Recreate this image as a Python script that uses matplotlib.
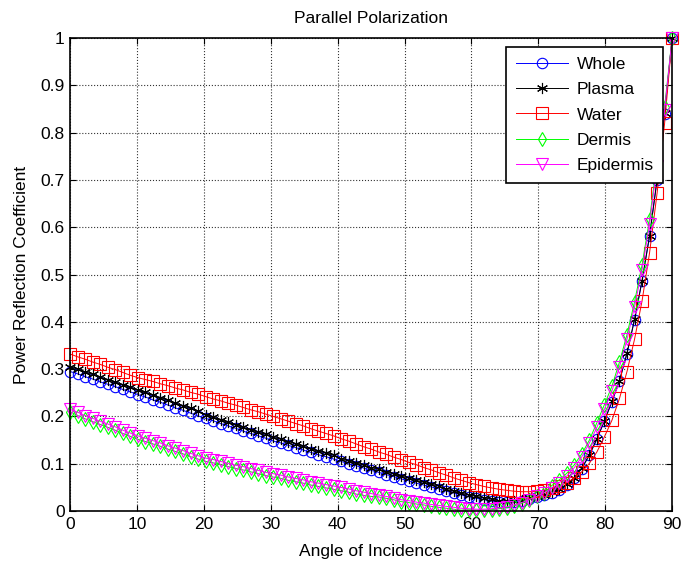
import numpy as np
import matplotlib
matplotlib.use('Agg')
import matplotlib.pyplot as plt

plt.rcParams['font.family'] = ['Liberation Sans', 'DejaVu Sans']

# incidence angle grid, 0..90 deg (81 samples)
angle = np.linspace(0, 90, 81)

whole = [0.295, 0.290, 0.284, 0.279, 0.273, 0.268, 0.263, 0.257, 0.252, 0.246,
         0.241, 0.235, 0.230, 0.224, 0.218, 0.213, 0.207, 0.201, 0.196, 0.191,
         0.185, 0.180, 0.175, 0.169, 0.164, 0.159, 0.154, 0.148, 0.144, 0.139,
         0.134, 0.129, 0.124, 0.119, 0.115, 0.110, 0.105, 0.100, 0.096, 0.091,
         0.086, 0.082, 0.077, 0.073, 0.068, 0.064, 0.059, 0.055, 0.051, 0.047,
         0.042, 0.038, 0.034, 0.030, 0.027, 0.024, 0.021, 0.020, 0.019, 0.020,
         0.022, 0.025, 0.029, 0.033, 0.038, 0.045, 0.055, 0.070, 0.090, 0.118,
         0.152, 0.190, 0.231, 0.275, 0.333, 0.404, 0.486, 0.581, 0.700, 0.840, 1.0]

plasma = [0.305, 0.300, 0.294, 0.289, 0.283, 0.278, 0.273, 0.267, 0.262, 0.256,
          0.251, 0.245, 0.240, 0.234, 0.228, 0.223, 0.217, 0.211, 0.204, 0.199,
          0.193, 0.188, 0.183, 0.177, 0.172, 0.167, 0.162, 0.156, 0.152, 0.147,
          0.142, 0.137, 0.132, 0.127, 0.123, 0.118, 0.111, 0.106, 0.102, 0.097,
          0.092, 0.088, 0.083, 0.079, 0.074, 0.070, 0.065, 0.061, 0.057, 0.053,
          0.046, 0.042, 0.038, 0.034, 0.031, 0.028, 0.025, 0.022, 0.021, 0.022,
          0.024, 0.027, 0.031, 0.035, 0.040, 0.047, 0.057, 0.071, 0.091, 0.119,
          0.153, 0.191, 0.232, 0.276, 0.334, 0.405, 0.487, 0.582, 0.701, 0.841, 1.0]

water = [0.332, 0.326, 0.321, 0.315, 0.310, 0.304, 0.299, 0.293, 0.287, 0.282,
         0.278, 0.274, 0.269, 0.265, 0.260, 0.256, 0.251, 0.247, 0.242, 0.237,
         0.233, 0.228, 0.224, 0.219, 0.214, 0.210, 0.205, 0.200, 0.195, 0.190,
         0.185, 0.180, 0.174, 0.169, 0.164, 0.159, 0.153, 0.148, 0.142, 0.136,
         0.131, 0.125, 0.120, 0.114, 0.109, 0.103, 0.098, 0.092, 0.087, 0.081,
         0.076, 0.070, 0.065, 0.060, 0.056, 0.052, 0.049, 0.046, 0.044, 0.042,
         0.041, 0.041, 0.042, 0.044, 0.048, 0.053, 0.060, 0.070, 0.083, 0.101,
         0.125, 0.157, 0.192, 0.238, 0.295, 0.363, 0.444, 0.546, 0.672, 0.820, 1.0]

dermis = [0.210, 0.202, 0.195, 0.189, 0.183, 0.177, 0.171, 0.164, 0.158, 0.152,
          0.147, 0.142, 0.137, 0.131, 0.126, 0.121, 0.115, 0.110, 0.105, 0.102,
          0.098, 0.094, 0.090, 0.087, 0.083, 0.079, 0.075, 0.072, 0.069, 0.065,
          0.062, 0.059, 0.055, 0.052, 0.049, 0.046, 0.043, 0.040, 0.036, 0.033,
          0.031, 0.030, 0.027, 0.024, 0.020, 0.018, 0.015, 0.013, 0.010, 0.008,
          0.006, 0.004, 0.002, 0.003, 0.002, 0.002, 0.003, 0.005, 0.007, 0.011,
          0.016, 0.024, 0.031, 0.039, 0.054, 0.066, 0.080, 0.098, 0.121, 0.150,
          0.187, 0.225, 0.264, 0.315, 0.373, 0.442, 0.520, 0.617, 0.740, 0.855, 1.0]

epidermis = [0.215, 0.209, 0.202, 0.196, 0.190, 0.184, 0.178, 0.171, 0.165, 0.159,
             0.154, 0.149, 0.144, 0.138, 0.133, 0.128, 0.122, 0.117, 0.112, 0.109,
             0.105, 0.101, 0.097, 0.094, 0.090, 0.086, 0.082, 0.079, 0.076, 0.072,
             0.069, 0.066, 0.062, 0.059, 0.056, 0.053, 0.050, 0.047, 0.043, 0.040,
             0.037, 0.034, 0.031, 0.028, 0.024, 0.022, 0.019, 0.017, 0.014, 0.012,
             0.010, 0.008, 0.006, 0.005, 0.004, 0.004, 0.005, 0.007, 0.009, 0.013,
             0.018, 0.024, 0.031, 0.039, 0.048, 0.060, 0.074, 0.092, 0.115, 0.144,
             0.177, 0.215, 0.254, 0.305, 0.363, 0.432, 0.510, 0.607, 0.730, 0.848, 1.0]

labels = ['Whole', 'Plasma', 'Water', 'Dermis', 'Epidermis']
series = [whole, plasma, water, dermis, epidermis]
colors = ['#0000ff', '#000000', '#ff0000', '#00ff00', '#ff00ff']
markers = ['o', (6, 2, 0), 's', 'd', 'v']
msizes = [7.5, 8, 8.5, 7.5, 8]

fig = plt.figure(figsize=(6.81, 5.66), dpi=100)
ax = fig.add_axes([0.103, 0.097, 0.884, 0.836])

for vals, lab, c, m, ms in zip(series, labels, colors, markers, msizes):
    ax.plot(angle, vals, color=c, lw=0.7, marker=m, ms=ms,
            mfc='none', mec=c, mew=0.8, label=lab, clip_on=False)

ax.set_xlim(0, 90)
ax.set_ylim(0, 1)
ax.set_xticks(np.arange(0, 91, 10))
ax.set_yticks(np.arange(0, 1.01, 0.1))
ax.set_yticklabels(['0', '0.1', '0.2', '0.3', '0.4', '0.5', '0.6', '0.7', '0.8', '0.9', '1'])
ax.grid(True, color='#333333', linestyle=':', lw=0.8)
ax.tick_params(direction='in', top=True, right=True, length=4, labelsize=12.5, pad=4)
for s in ax.spines.values():
    s.set_linewidth(1.2)

ax.set_xlabel('Angle of Incidence', fontsize=12.5, labelpad=9)
ax.set_ylabel('Power Reflection Coefficient', fontsize=12.5, labelpad=8)
ax.set_title('Parallel Polarization', fontsize=12.5, pad=11)

leg = ax.legend(loc='upper right', bbox_to_anchor=(0.985, 0.98), fontsize=12.5,
                fancybox=False, framealpha=1, edgecolor='black', numpoints=1,
                handlelength=3.0, borderaxespad=0, labelspacing=0.58,
                handletextpad=0.5, borderpad=0.55)
leg.get_frame().set_linewidth(1.2)

fig.savefig('out.png', dpi=100)
